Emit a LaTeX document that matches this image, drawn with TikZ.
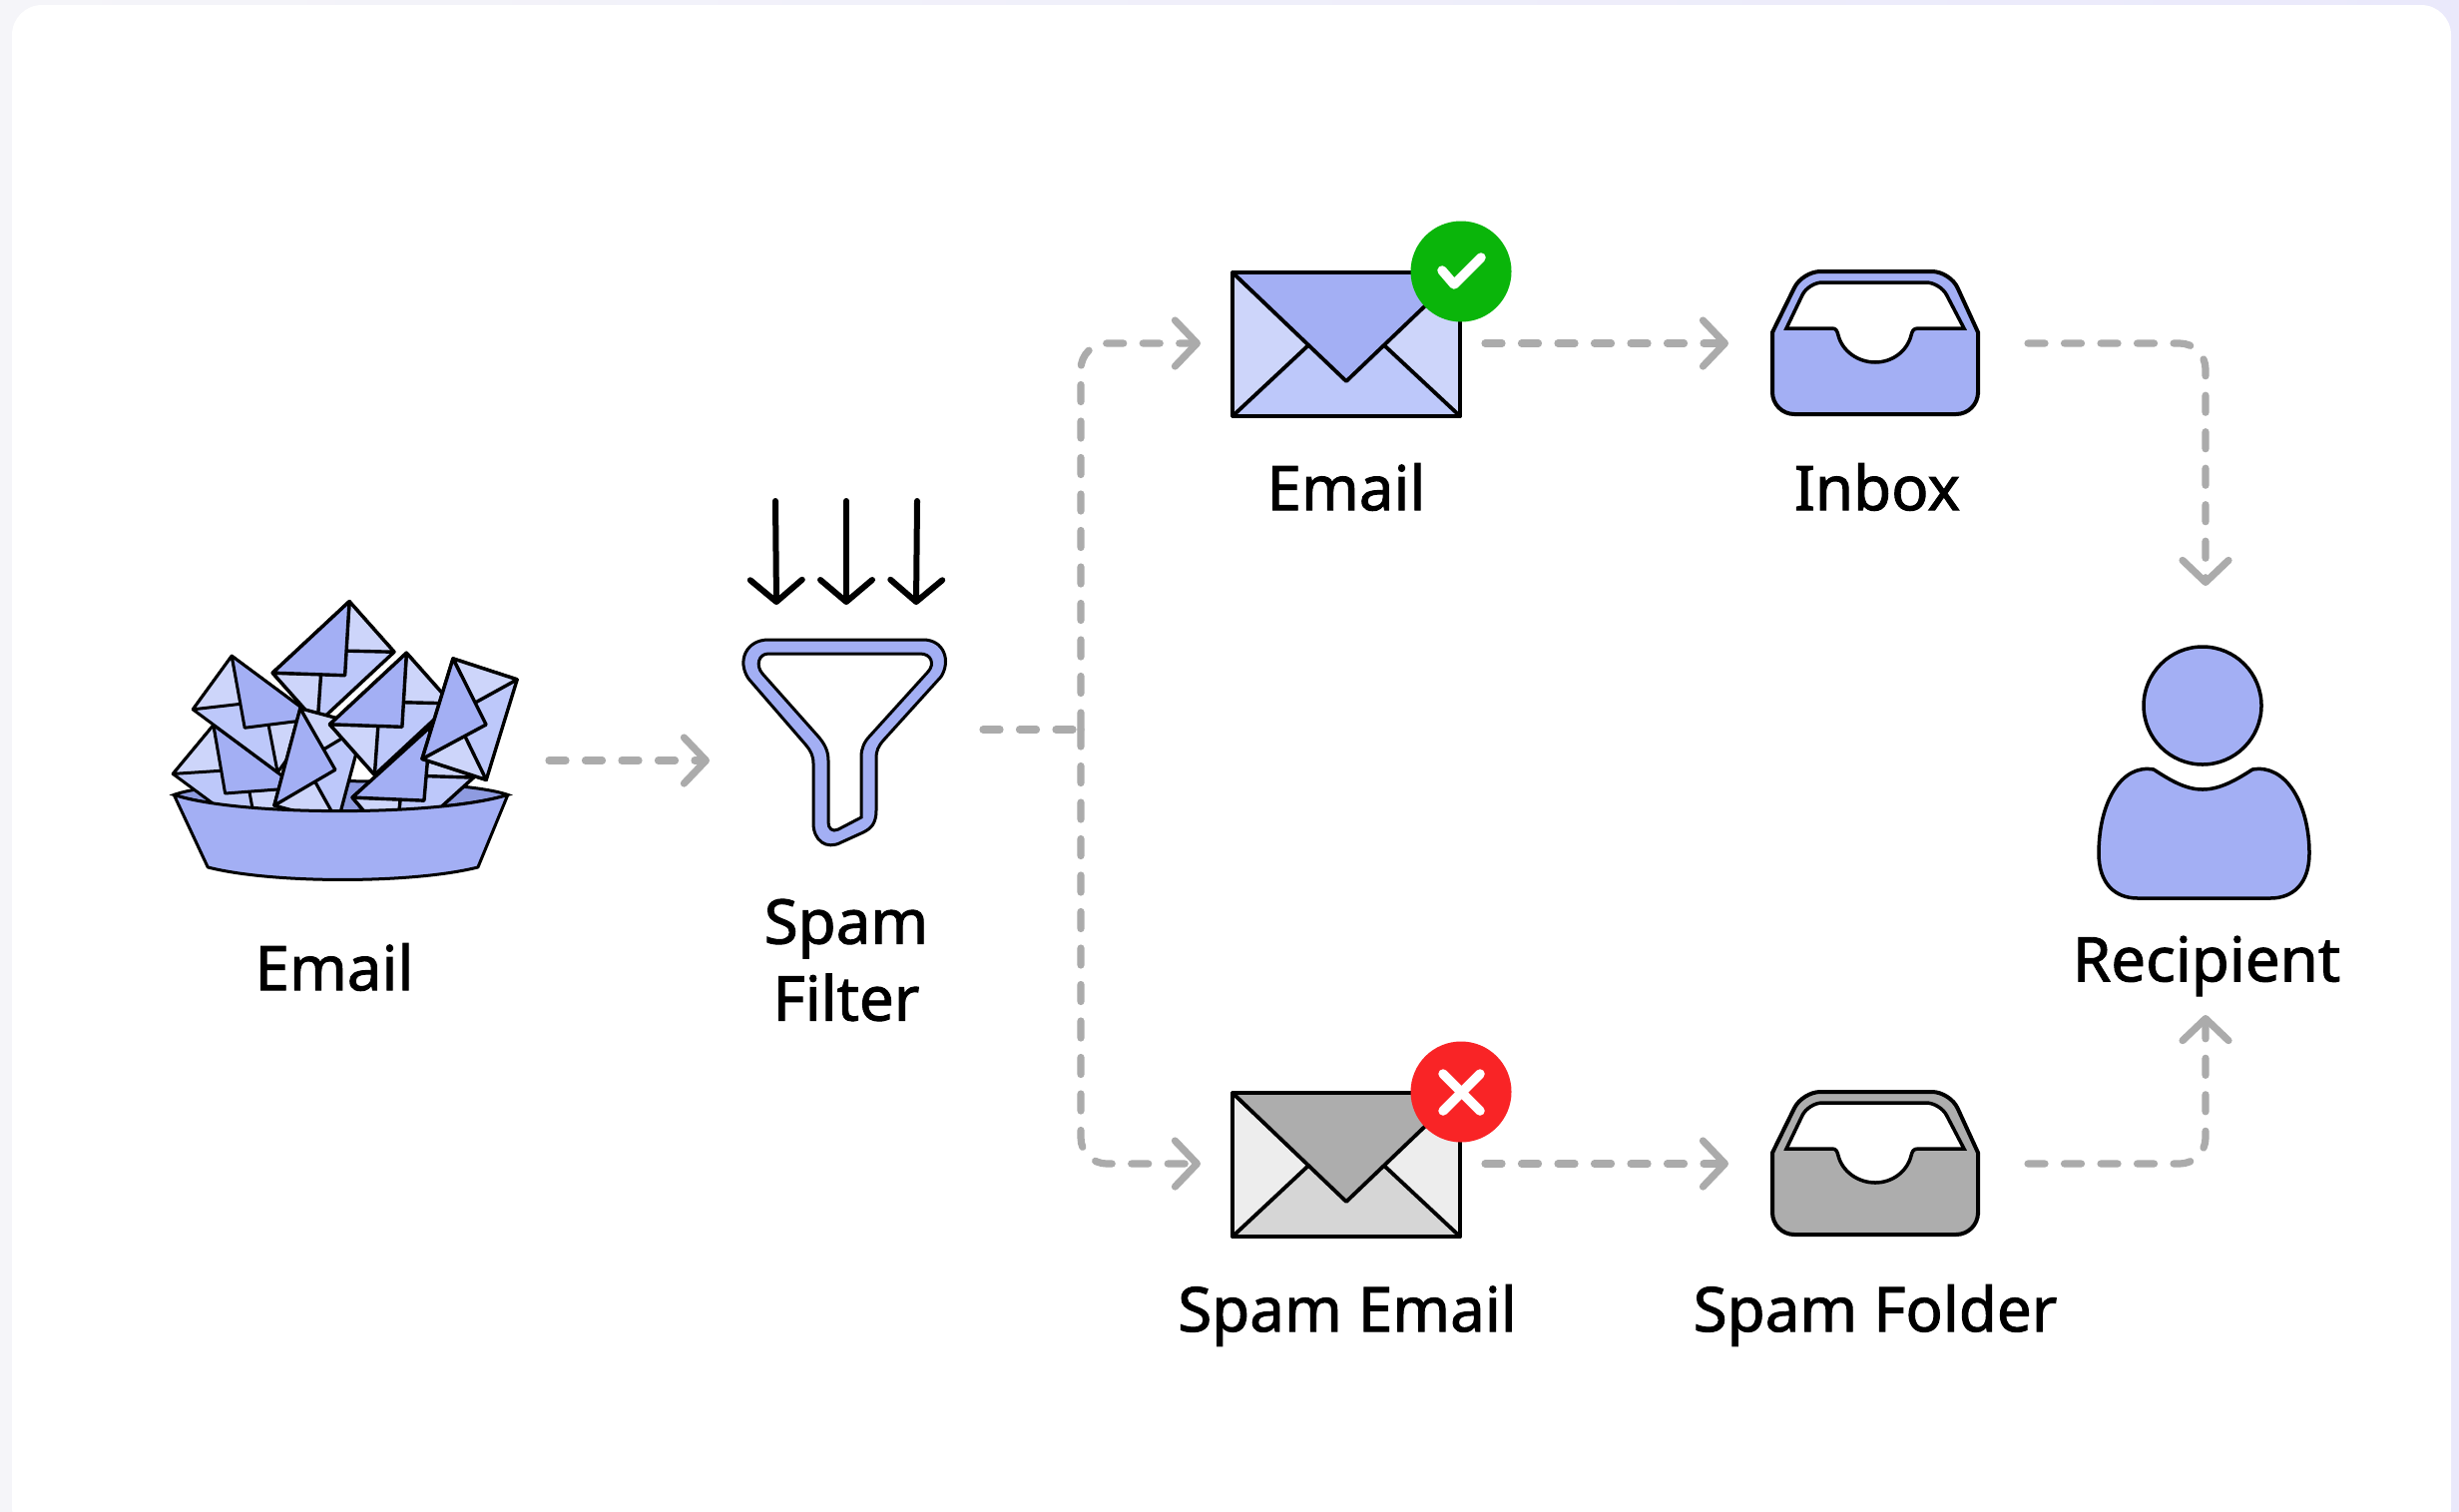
\documentclass[tikz,border=0pt]{standalone}
\usepackage{fontspec}
\setmainfont{Noto Sans}[RawFeature={embolden=1.5}]
\usetikzlibrary{positioning,arrows.meta,calc}
\definecolor{pagebgl}{HTML}{F5F5F9}
\definecolor{pagebgr}{HTML}{EAE9FB}
\definecolor{mailflap}{HTML}{A3AFF4}
\definecolor{mailside}{HTML}{CDD5FA}
\definecolor{mailbody}{HTML}{BDC8FA}
\definecolor{mailrim}{HTML}{8E9BE0}
\definecolor{spamflap}{HTML}{ADADAD}
\definecolor{spamside}{HTML}{EDEDED}
\definecolor{spambody}{HTML}{D6D6D6}
\definecolor{okgreen}{HTML}{0AB50A}
\definecolor{badred}{HTML}{F92426}
\definecolor{flowgrey}{HTML}{ABABAB}

% envelope: line width, flap, side, body, then three corners
\newcommand{\mailenv}[7]{
  \coordinate (tl) at (#5);
  \coordinate (tr) at (#6);
  \coordinate (bl) at (#7);
  \coordinate (br) at ($(tr)+(bl)-(tl)$);
  \coordinate (apex) at ($(tl)!.5!(tr)+.757*(bl)-.757*(tl)$);
  \coordinate (foldl) at ($(tl)+.338*(tr)-.338*(tl)+.5*(bl)-.5*(tl)$);
  \coordinate (foldr) at ($(tl)+.662*(tr)-.662*(tl)+.5*(bl)-.5*(tl)$);
  \filldraw[line width=#1, line join=round, fill=#4, draw=black] (tl) -- (tr) -- (br) -- (bl) -- cycle;
  \filldraw[line width=#1, line join=round, fill=#3, draw=black] (tl) -- (foldl) -- (bl) -- cycle;
  \filldraw[line width=#1, line join=round, fill=#3, draw=black] (tr) -- (foldr) -- (br) -- cycle;
  \filldraw[line width=#1, line join=round, fill=#2, draw=black] (tl) -- (apex) -- (tr) -- cycle;
}
% tray: y shift, fill
\newcommand{\trayicon}[2]{
  \begin{scope}[shift={(0,#1)}]
    \filldraw[line width=.4mm, fill=#2] (1776,333) [rounded corners=1.8mm] -- (1806,272) -- (1954,272)
      [sharp corners] -- (1982,333) -- (1982,395) [rounded corners=2.2mm] -- (1982,415) -- (1776,415)
      [sharp corners] -- cycle;
    \filldraw[line width=.35mm, fill=white] (1790,329) [rounded corners=1.4mm] -- (1812,283) -- (1944,283)
      [sharp corners] -- (1968,329) -- (1922,329) .. controls (1917,329) and (1916,332) .. (1915,336)
      .. controls (1911,352) and (1896,363) .. (1879,363) .. controls (1862,363) and (1846,352) .. (1842,336)
      .. controls (1841,332) and (1840,329) .. (1836,329) -- cycle;
  \end{scope}
}

\begin{document}
\begin{tikzpicture}[
  x=0.1mm, y=-0.1mm,
  lbl/.style={font=\fontsize{17.6}{21.9}\selectfont, align=center, text=black, inner sep=0pt},
  iconbox/.style={minimum height=10mm, inner sep=0pt, outer sep=0pt},
  flow/.style={draw=flowgrey, line width=.72mm, line cap=round, rounded corners=2.6mm,
               dash pattern=on 1.7mm off 1.95mm,
               -{Straight Barb[length=2.2mm, width=4.6mm, line width=.72mm, round]}},
  fall/.style={draw=black, line width=.6mm, line cap=round,
               -{Straight Barb[length=2.2mm, width=5.2mm, line width=.6mm, round]}},
  badge/.style={circle, minimum size=10.1mm, inner sep=0pt, outer sep=0pt},
  markline/.style={draw=white, line width=.95mm, line cap=round, line join=round},
]
\useasboundingbox (0,0) rectangle (2464,1514);
\clip (0,0) rectangle (2464,1514);

% ---- card ----
\shade[left color=pagebgl, right color=pagebgr] (0,0) rectangle (2464,1514);
\fill[white, rounded corners=3mm] (12,5) rectangle (2456,1540);

% ---- pile of mail in the bowl ----
\begin{scope}[shift={(140,570)}, x=0.0333mm, y=-0.0333mm]
  \filldraw[line width=.3mm, fill=mailrim] (103,680) .. controls (250,625) and (950,625) .. (1108,680)
    .. controls (900,745) and (300,745) .. (103,680) -- cycle;
  \mailenv{.3mm}{mailflap}{mailside}{mailbody}{222,470}{477,659}{100,617}
  \mailenv{.3mm}{mailflap}{mailside}{mailbody}{277,262}{532,451}{160,423}
  \mailenv{.34mm}{mailflap}{mailside}{mailbody}{400,313}{631,98}{535,465}
  \mailenv{.32mm}{mailflap}{mailside}{mailbody}{405,712}{483,420}{596,763}
  \mailenv{.34mm}{mailflap}{mailside}{mailbody}{572,468}{803,253}{707,620}
  \mailenv{.34mm}{mailflap}{mailside}{mailbody}{640,688}{875,475}{770,841}
  \mailenv{.34mm}{mailflap}{mailside}{mailbody}{850,572}{943,270}{1043,635}
  \filldraw[line width=.3mm, fill=mailflap, line join=round] (103,680) .. controls (300,745) and (900,745) .. (1108,680)
    -- (1018,898) .. controls (820,948) and (400,948) .. (205,898) -- cycle;
\end{scope}

% ---- funnel ----
\filldraw[line width=.3mm, fill=mailflap, even odd rule]
  (770,641) -- (925,641) .. controls (946,641) and (953,662) .. (943,678) -- (885,742)
  .. controls (880,748) and (878,752) .. (878,760) -- (878,812) .. controls (878,825) and (873,830) .. (865,834)
  -- (843,844) .. controls (828,852) and (815,842) .. (815,825) -- (815,765)
  .. controls (815,757) and (812,752) .. (808,747) -- (750,680) .. controls (738,662) and (748,641) .. (770,641) -- cycle
  (770,655) -- (922,655) .. controls (933,655) and (937,665) .. (930,673) -- (872,737)
  .. controls (866,743) and (863,750) .. (863,758) -- (863,819) -- (840,831)
  .. controls (834,834) and (830,830) .. (830,824) -- (830,762) .. controls (830,752) and (826,745) .. (820,738)
  -- (764,675) .. controls (757,667) and (760,655) .. (770,655) -- cycle;
\foreach \x/\tipx in {777/778,848/848,919/918}{
  \coordinate (fallin) at (\x,502);
  \coordinate (fallout) at (\tipx,606);
  \draw[fall] (fallin) -- (fallout);
}

% ---- envelopes and badges ----
\mailenv{.38mm}{mailflap}{mailside}{mailbody}{1235,273}{1463,273}{1235,417}
\mailenv{.38mm}{spamflap}{spamside}{spambody}{1235,1095}{1463,1095}{1235,1239}
\node[badge, fill=okgreen] (okbadge) at (1464,272) {};
\coordinate (ticka) at (1445,271);
\coordinate (tickb) at (1457,285);
\coordinate (tickc) at (1484,258);
\draw[markline] (ticka) -- (tickb) -- (tickc);
\node[badge, fill=badred] (badbadge) at (1464,1094) {};
\draw[markline] ($(badbadge)+(-18,-18)$) -- ($(badbadge)+(19,19)$);
\draw[markline] ($(badbadge)+(19,-18)$) -- ($(badbadge)+(-18,19)$);

% ---- trays ----
\trayicon{0}{mailflap}
\trayicon{822}{spamflap}

% ---- recipient ----
\node[circle, draw=black, fill=mailflap, line width=.35mm, minimum size=11.8mm, inner sep=0pt] (head) at (2207,707) {};
\filldraw[line width=.35mm, fill=mailflap] (2158,771) .. controls (2175,782) and (2190,791) .. (2207,791)
  .. controls (2224,791) and (2240,782) .. (2257,771) .. controls (2290,765) and (2314,805) .. (2314,855)
  .. controls (2314,885) and (2298,900) .. (2275,900) -- (2142,900)
  .. controls (2119,900) and (2103,885) .. (2103,855) .. controls (2103,805) and (2125,765) .. (2158,771) -- cycle;

% ---- invisible boxes the connectors run between ----
\node[iconbox, minimum width=38.2mm] (pile) at (359,762) {};
\node[iconbox, minimum width=27.4mm] (filter) at (848,731) {};
\node[iconbox, minimum width=28.5mm] (okmail) at (1345.5,344) {};
\node[iconbox, minimum width=28.5mm] (badmail) at (1345.5,1166) {};
\node[iconbox, minimum width=30mm] (inbox) at (1882,344) {};
\node[iconbox, minimum width=30mm] (spambox) at (1882,1166) {};
\node[iconbox, minimum width=20mm, minimum height=43mm] (person) at (2210,802) {};
\coordinate (split) at (1083,731);

% ---- connectors ----
\draw[flow] (pile.east) -- (pile.east -| filter.west);
\draw[flow, -] (filter.east) -- (split);
\draw[flow] (split) |- (okmail.west);
\draw[flow] (split) |- (badmail.west);
\draw[flow] (okmail.east) -- (inbox.west);
\draw[flow] (badmail.east) -- (spambox.west);
\draw[flow] (inbox.east) -| (person.north);
\draw[flow] (spambox.east) -| (person.south);

% ---- labels ----
\node[lbl] (pilelbl) at (335,969) {Email};
\node[lbl] (filterlbl) at (848,962) {Spam\\Filter};
\node[lbl] (oklbl) at (1349,488) {Email};
\node[lbl] (inboxlbl) at (1881,488) {Inbox};
\node[lbl] (badlbl) at (1350,1318) {Spam Email};
\node[lbl] (spamboxlbl) at (1879,1318) {Spam Folder};
\node[lbl] (personlbl) at (2211,968) {Recipient};
\end{tikzpicture}
\end{document}
